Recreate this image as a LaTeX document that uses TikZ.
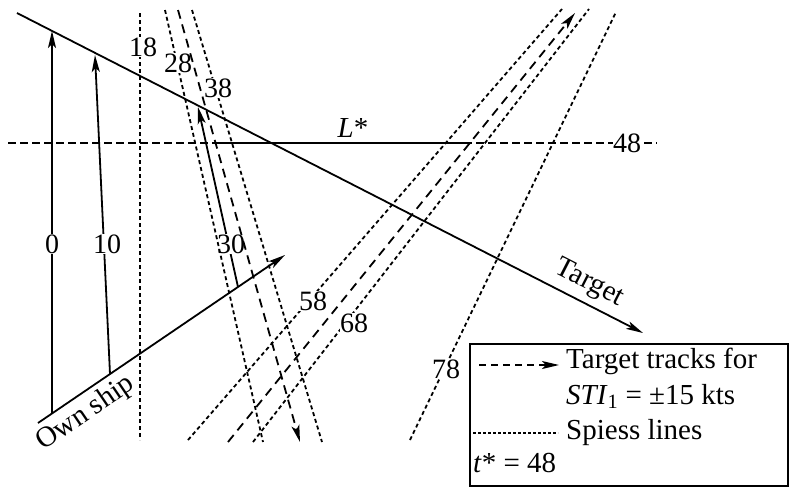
\documentclass[tikz,border=0pt]{standalone}
\usepackage{fontspec}
\setmainfont{Liberation Serif}
\usepackage{tikz}
\usetikzlibrary{arrows.meta}
\tikzset{
  >={Stealth[length=17pt,width=8pt,inset=4pt]},
  vec/.style={->,line width=1.8pt},
  spiess/.style={line width=1.8pt,dash pattern=on 4pt off 3pt},
  track/.style={line width=1.8pt,dash pattern=on 9pt off 6pt},
  hline/.style={line width=1.6pt,dash pattern=on 8pt off 4pt},
  num/.style={fill=white,inner sep=0.5pt,font=\fontsize{28}{33}\selectfont},
  lbl/.style={inner sep=1pt,font=\fontsize{29}{34}\selectfont},
  keybox/.style={draw,line width=1.5pt,fill=white,minimum width=318pt,minimum height=142pt,
    anchor=north west,inner sep=0pt},
}

\begin{document}
\begin{tikzpicture}[x=1pt,y=-1pt]
  \useasboundingbox (0,0) rectangle (789,488);
  % own ship and target
  \coordinate (tgtA) at (17,13);
  \coordinate (tgtB) at (643,333);
  \coordinate (ownA) at (38,423);
  \coordinate (ownB) at (285,255);
  \draw[vec] (tgtA) -- node[lbl,sloped,above=5pt,pos=0.9] (tgtl) {Target} (tgtB);
  \draw[vec] (ownA) -- node[lbl,sloped,below=4pt,pos=0.15] (ownl) {Own ship} (ownB);
  \foreach \t/\ax/\ay/\bx/\by/\lx in {0/52/413/52/31/52,10/110/374/95/55/107,30/238/287/198/107/231} {
    \coordinate (v\t-a) at (\ax,\ay);
    \coordinate (v\t-b) at (\bx,\by);
    \draw[vec] (v\t-a) -- (v\t-b);
    \node[num] (n\t) at (\lx,244) {\t};
  }
  % line of constant time t* = 48
  \coordinate (hA) at (8,143);
  \coordinate (hB) at (657,143);
  \coordinate (lsA) at (215,143);
  \coordinate (lsB) at (472,143);
  \draw[hline] (hA) -- (hB);
  \draw[line width=1.9pt] (lsA) -- (lsB);
  \node[lbl] (lstar) at (353,128) {\textit{L}*};
  % Spiess lines
  \foreach \n/\ax/\ay/\bx/\by/\lx/\ly in {18/140/13/140/440/143/47,28/165/10/263/442/178/63,
      38/192/10/322/442/218/88,58/188/440/562/9/313/301,68/253/442/589/9/354/323,78/410/440/616/12/446/369} {
    \coordinate (s\n-a) at (\ax,\ay);
    \coordinate (s\n-b) at (\bx,\by);
    \draw[spiess] (s\n-a) -- (s\n-b);
    \node[num] (l\n) at (\lx,\ly) {\n};
  }
  \node[num] (l48) at (627,143) {48};
  % target tracks
  \coordinate (trA-a) at (178,10);
  \coordinate (trA-b) at (300,442);
  \coordinate (trB-a) at (228,442);
  \coordinate (trB-b) at (575,13);
  \draw[track,->] (trA-a) -- (trA-b);
  \draw[track,->] (trB-a) -- (trB-b);
  % key
  \node[keybox] (key) at (469,343) {};
  \coordinate (k1a) at (479,365);
  \coordinate (k1b) at (559,365);
  \coordinate (k2a) at (473,433);
  \coordinate (k2b) at (558,433);
  \draw[line width=1.5pt,dash pattern=on 7pt off 5pt,->] (k1a) -- (k1b);
  \draw[line width=1.3pt,dash pattern=on 3pt off 2pt] (k2a) -- (k2b);
  \node[lbl,anchor=base west] (kt1) at (565,368) {Target tracks for};
  \node[lbl,anchor=base west] (kt2) at (565,404) {\textit{STI}\textsubscript{1} = ±15 kts};
  \node[lbl,anchor=base west] (kt3) at (565,439) {Spiess lines};
  \node[lbl,anchor=base west] (kt4) at (472,472) {\textit{t}* = 48};
\end{tikzpicture}
\end{document}
